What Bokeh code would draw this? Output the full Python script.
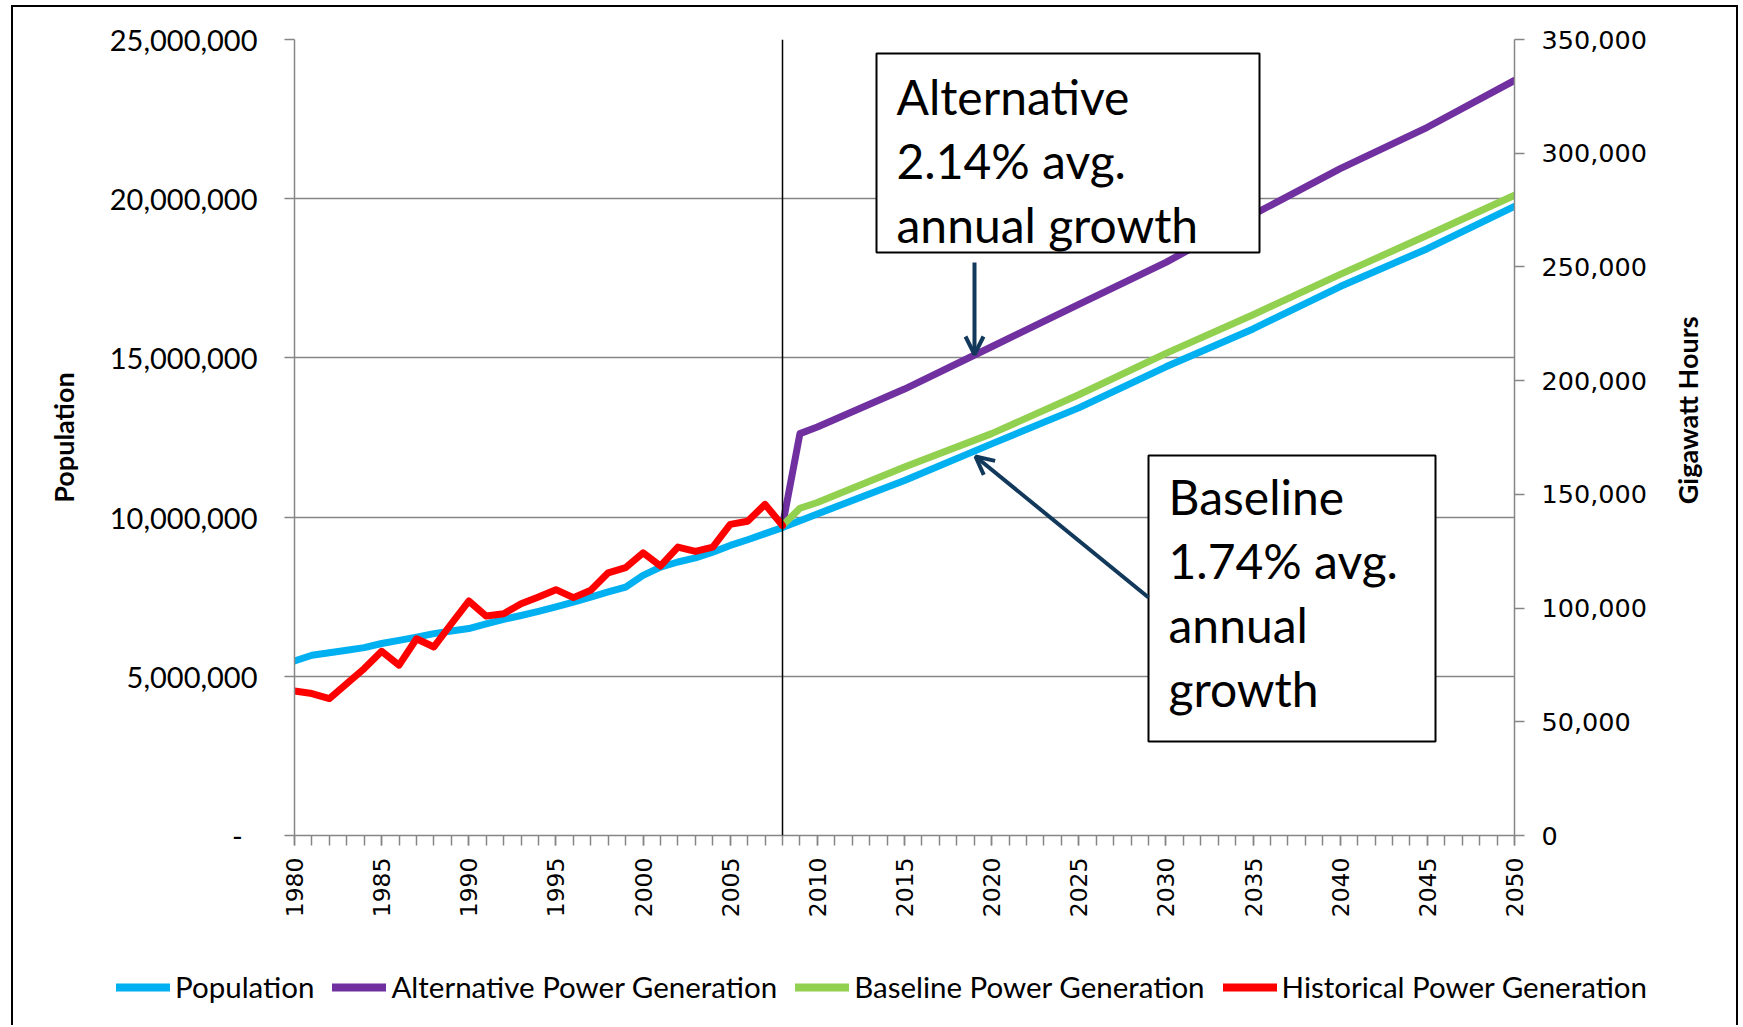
import math
from bokeh.plotting import figure
from bokeh.layouts import column, row
from bokeh.models import (Range1d, LinearAxis, FixedTicker, SingleIntervalTicker,
                          NumeralTickFormatter, CustomJSTickFormatter, Legend, LegendItem,
                          Span, BoxAnnotation, Label, Arrow, OpenHead)
from bokeh.embed import file_html
from bokeh.resources import INLINE

# ---------------- data ----------------
pop_years = list(range(1980, 2009)) + [2010, 2015, 2020, 2025, 2030, 2035, 2040, 2045, 2050]
population = [5480000, 5660000, 5740000, 5820000, 5900000, 6030000, 6130000, 6230000, 6340000,
              6420000, 6500000, 6650000, 6790000, 6910000, 7040000, 7180000, 7330000, 7490000,
              7650000, 7800000, 8170000, 8430000, 8590000, 8720000, 8900000, 9110000, 9290000,
              9480000, 9670000,
              10100000, 11150000, 12300000, 13430000, 14720000, 15910000, 17240000, 18430000, 19760000]

proj_years = [2008, 2009, 2010, 2015, 2020, 2025, 2030, 2035, 2040, 2045, 2050]
alternative_gwh = [136300, 176700, 179600, 196300, 214900, 233500, 252000, 273000, 293200, 311400, 332000]
baseline_gwh = [136300, 143900, 146400, 162000, 176700, 193800, 212000, 229000, 246700, 263900, 281500]

hist_years = list(range(1980, 2009))
historical_gwh = [63500, 62400, 60200, 66800, 73400, 81000, 74900, 86500, 82900, 93100,
                  103100, 96500, 97500, 101900, 104900, 108100, 104600, 107800, 115500, 117800,
                  124300, 118500, 126800, 124900, 126800, 136800, 138200, 145600, 136300]

pop_ticks = [0, 5000000, 10000000, 15000000, 20000000, 25000000]
gwh_ticks = [0, 50000, 100000, 150000, 200000, 250000, 300000, 350000]
series_names = ["Population", "Alternative Power Generation", "Baseline Power Generation",
                "Historical Power Generation"]
series_colors = ["#00B0F0", "#7030A0", "#92D050", "#FF0000"]
divider_year = 2008

left_title = "Population"
right_title = "Gigawatt Hours"
alt_note = ["Alternative", "2.14% avg.", "annual growth"]
base_note = ["Baseline", "1.74% avg.", "annual", "growth"]

# ---------------- geometry (canvas origin is page (13, 7)) ----------------
OX, OY = 13, 7
TOTAL_W = 1723
MAIN_W, MAIN_H = 1650, 923
LEG_H = 95
FL, FR, FT, FB = 294 - OX, 1514 - OX, 39 - OY, 835 - OY

p = figure(width=MAIN_W, height=MAIN_H, output_backend="svg", toolbar_location=None,
           x_range=Range1d(1980, 2050), y_range=Range1d(0, 25000000),
           min_border_left=FL, min_border_right=MAIN_W - FR, min_border_top=FT,
           min_border_bottom=MAIN_H - FB)
p.outline_line_color = None
p.background_fill_color = "white"
p.border_fill_color = "white"
p.extra_y_ranges = {"gwh": Range1d(0, 350000)}

GRAY = "#868686"
# x axis
xa = p.xaxis[0]
xa.ticker = SingleIntervalTicker(interval=5, num_minor_ticks=5)
xa.axis_line_color = GRAY
xa.axis_line_width = 1.5
xa.major_tick_line_color = GRAY
xa.minor_tick_line_color = GRAY
xa.major_tick_line_width = 1.5
xa.minor_tick_line_width = 1.5
xa.major_tick_in = 0
xa.major_tick_out = 10
xa.minor_tick_in = 0
xa.minor_tick_out = 10
xa.major_label_orientation = math.pi / 2
xa.major_label_standoff = 12
xa.major_label_text_font = "DejaVu Sans"
xa.major_label_text_font_size = "23.5px"
xa.major_label_text_color = "black"
p.xgrid.grid_line_color = None

# left axis
ya = p.yaxis[0]
ya.ticker = FixedTicker(ticks=pop_ticks)
ya.formatter = CustomJSTickFormatter(code="""
if (tick == 0) { return "-\\u00a0\\u00a0"; }
return Math.round(tick).toString().replace(/\\B(?=(\\d{3})+(?!\\d))/g, ",");
""")
ya.axis_line_color = GRAY
ya.axis_line_width = 1.5
ya.major_tick_line_color = GRAY
ya.major_tick_line_width = 1.5
ya.major_tick_in = 0
ya.major_tick_out = 10
ya.minor_tick_line_color = None
ya.major_label_standoff = 27
ya.major_label_text_font = "Lato"
ya.major_label_text_font_size = "29px"
ya.major_label_text_color = "black"
ya.axis_label = left_title
ya.axis_label_text_font = "Lato"
ya.axis_label_text_font_style = "bold"
ya.axis_label_text_font_size = "27px"
ya.axis_label_text_color = "black"
ya.axis_label_standoff = 27
p.ygrid.ticker = FixedTicker(ticks=pop_ticks)
p.ygrid.grid_line_color = GRAY
p.ygrid.grid_line_width = 1.5

# right axis
ra = LinearAxis(y_range_name="gwh", ticker=FixedTicker(ticks=gwh_ticks),
                formatter=NumeralTickFormatter(format="0,0"))
ra.axis_line_color = GRAY
ra.axis_line_width = 1.5
ra.major_tick_line_color = GRAY
ra.major_tick_line_width = 1.5
ra.major_tick_in = 0
ra.major_tick_out = 10
ra.minor_tick_line_color = None
ra.major_label_standoff = 17
ra.major_label_text_font = "DejaVu Sans"
ra.major_label_text_font_size = "25.5px"
ra.major_label_text_color = "black"
p.add_layout(ra, "right")

# ---------------- series ----------------
LW = 7
r_pop = p.line(pop_years, population, line_color=series_colors[0], line_width=LW,
               line_cap="round", line_join="round")
r_alt = p.line(proj_years, alternative_gwh, y_range_name="gwh", line_color=series_colors[1],
               line_width=LW, line_cap="round", line_join="round")
r_base = p.line(proj_years, baseline_gwh, y_range_name="gwh", line_color=series_colors[2],
                line_width=LW, line_cap="round", line_join="round")
r_hist = p.line(hist_years, historical_gwh, y_range_name="gwh", line_color=series_colors[3],
                line_width=LW, line_cap="round", line_join="round")

p.add_layout(Span(location=divider_year, dimension="height", line_color="black", line_width=1.5))

# ---------------- annotations ----------------
def yv(py):
    # page pixel -> population units (annotation placement only)
    return (835 - py) / 796.0 * 25000000

def xv(px):
    return 1980 + (px - 294) / 1220.0 * 70

NAVY = "#12395B"
p.add_layout(BoxAnnotation(left=xv(876), right=xv(1259), top=yv(53), bottom=yv(252),
                           fill_color="white", fill_alpha=1, line_color="black",
                           line_alpha=1, line_width=2))
for i, t in enumerate(alt_note):
    p.add_layout(Label(x=xv(896), y=yv(96 + 64 * i), text=t, text_font="Lato",
                       text_font_size="48px", text_color="black", text_baseline="alphabetic"))

p.add_layout(BoxAnnotation(left=xv(1148), right=xv(1435), top=yv(455), bottom=yv(741),
                           fill_color="white", fill_alpha=1, line_color="black",
                           line_alpha=1, line_width=2))
for i, t in enumerate(base_note):
    p.add_layout(Label(x=xv(1168), y=yv(496 + 64 * i), text=t, text_font="Lato",
                       text_font_size="48px", text_color="black", text_baseline="alphabetic"))

p.add_layout(Arrow(x_start=xv(974), y_start=yv(262), x_end=xv(974), y_end=yv(354),
                   line_color=NAVY, line_width=4,
                   end=OpenHead(size=18, line_color=NAVY, line_width=4)))
p.add_layout(Arrow(x_start=xv(1148), y_start=yv(597), x_end=xv(975), y_end=yv(456),
                   line_color=NAVY, line_width=4,
                   end=OpenHead(size=18, line_color=NAVY, line_width=4)))

# ---------------- right-hand axis title (reads bottom to top) ----------------
TW = TOTAL_W - MAIN_W
t = figure(width=TW, height=MAIN_H, output_backend="svg", toolbar_location=None,
           x_range=Range1d(0, TW), y_range=Range1d(0, MAIN_H),
           x_axis_type=None, y_axis_type=None, min_border=0)
t.outline_line_color = None
t.border_fill_color = "white"
t.add_layout(Label(x=1687 - OX - MAIN_W, y=MAIN_H - (437 - OY), text=right_title,
                   angle=math.pi / 2, text_align="center", text_baseline="middle",
                   text_font="Lato", text_font_style="bold", text_font_size="27px",
                   text_color="black"))

# ---------------- legend strip ----------------
lg = figure(width=TOTAL_W, height=LEG_H, output_backend="svg", toolbar_location=None,
            x_range=Range1d(0, 1), y_range=Range1d(0, 1),
            x_axis_type=None, y_axis_type=None, min_border=0)
lg.outline_line_color = None
lg.border_fill_color = "white"
dummies = [lg.line(x=[-5], y=[-5], line_color=c, line_width=8, line_cap="round")
           for c in series_colors]
legend = Legend(items=[LegendItem(label=n, renderers=[r]) for n, r in zip(series_names, dummies)],
                orientation="horizontal", location=(116 - OX, 21),
                label_text_font="Lato", label_text_font_size="29.5px", label_text_color="black",
                glyph_width=54, glyph_height=20, label_standoff=5, spacing=18,
                padding=0, margin=0, border_line_color=None, background_fill_alpha=0)
lg.add_layout(legend, "center")

page = column(row(p, t, spacing=0), lg, spacing=0,
              styles={"margin-left": "11px", "margin-top": "5px",
                      "border-left": "2px solid black", "border-top": "2px solid black",
                      "border-right": "2px solid black"})

open("out.html", "w").write(file_html(page, INLINE))
